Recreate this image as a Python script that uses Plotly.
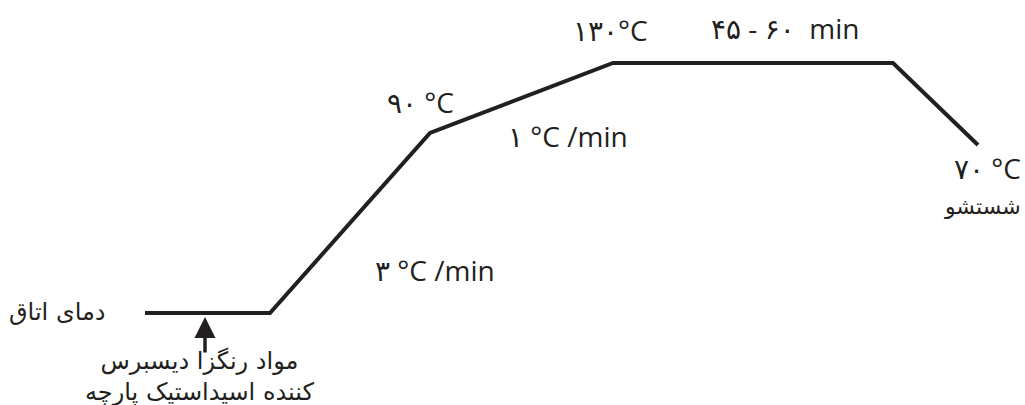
import plotly.graph_objects as go

# Schematic profile corners (diagram units)
time_pts = [145, 270, 430, 613, 893, 978]
temp_pts = [313, 313, 133, 63, 63, 145]

# Labels
lbl_room = "دمای اتاق"
lbl_90 = "۹۰ °C"
lbl_130 = "۱۳۰°C"
lbl_hold = "۴۵ - ۶۰  min"
lbl_rate1 = "۱ °C /min"
lbl_rate3 = "۳ °C /min"
lbl_70 = "۷۰ °C"
lbl_wash = "شستشو"
lbl_dye = "مواد رنگزا دیسبرس<br>کننده اسیداستیک پارچه"

ink = "#231f20"
font_lat = dict(family="Open Sans, DejaVu Sans", size=28, color=ink)
font_fa = dict(family="DejaVu Sans", size=24, color=ink)

fig = go.Figure()
fig.add_trace(go.Scatter(
    x=time_pts, y=temp_pts, mode="lines",
    line=dict(color=ink, width=4), hoverinfo="skip", showlegend=False
))

texts = [
    (lbl_room, 57, 312, font_fa, "center"),
    (lbl_90, 420, 102, font_lat, "center"),
    (lbl_130, 610, 30, font_lat, "center"),
    (lbl_hold, 785, 28, font_lat, "center"),
    (lbl_rate1, 568, 136, font_lat, "center"),
    (lbl_rate3, 435, 270, font_lat, "center"),
    (lbl_70, 1023, 168, font_lat, "right"),
    (lbl_wash, 1023, 206, dict(font_fa, size=22), "right"),
]
for t, x, y, f, xa in texts:
    fig.add_annotation(x=x, y=y, text=t, showarrow=False, font=f, xanchor=xa)

# arrow pointing at the start of the ramp
fig.add_annotation(x=205, y=317, ax=205, ay=354, axref="x", ayref="y",
                   text="", showarrow=True, arrowhead=2, arrowsize=1.2,
                   arrowwidth=3.5, arrowcolor=ink)
fig.add_annotation(x=200, y=376, text=lbl_dye, showarrow=False, font=font_fa)

fig.update_xaxes(range=[0, 1025], visible=False)
fig.update_yaxes(range=[405, 0], visible=False)
fig.update_layout(
    width=1025, height=405,
    margin=dict(l=0, r=0, t=0, b=0),
    paper_bgcolor="white", plot_bgcolor="white",
)
# drop the default body margin so the figure fills the window
fig.write_html("out.html", config={"displayModeBar": False},
               post_script="document.body.style.margin='0';"
                           "document.body.style.overflow='hidden';")
